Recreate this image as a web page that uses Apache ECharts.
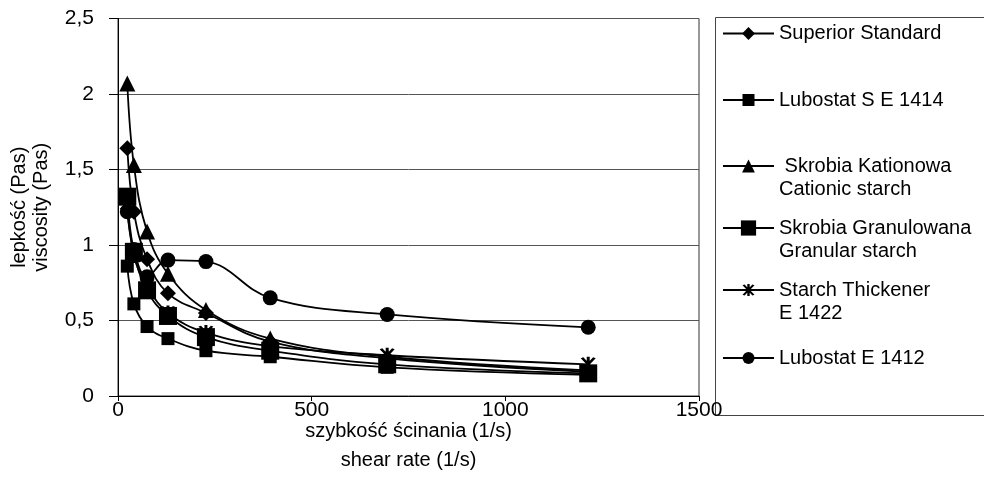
<!DOCTYPE html>
<html>
<head>
<meta charset="utf-8">
<script src="https://cdn.jsdelivr.net/npm/echarts@6/dist/echarts.min.js"></script>
<style>
  html, body { margin: 0; padding: 0; background: #fff; }
  #chart { width: 984px; height: 491px; }
</style>
</head>
<body>
<div id="chart"></div>
<script>
const FONT = '"Liberation Sans", Arial, sans-serif';

// shear rate (1/s)
const shearRate = [24, 41, 75, 129, 227, 393, 695, 1214];

// viscosity (Pas)
const superiorStandard = [1.64, 1.22, 0.905, 0.68, 0.55, 0.36, 0.25, 0.16];
const lubostatSE1414 = [0.86, 0.61, 0.46, 0.38, 0.30, 0.26, 0.19, 0.14];
const skrobiaKationowa = [2.07, 1.53, 1.09, 0.81, 0.57, 0.38, 0.26, 0.17];
const skrobiaGranulowana = [1.32, 0.955, 0.70, 0.53, 0.39, 0.30, 0.21, 0.15];
const starchThickener = [1.28, 0.93, 0.73, 0.55, 0.42, 0.33, 0.27, 0.21];
const lubostatE1412 = [1.22, 0.97, 0.79, 0.90, 0.89, 0.65, 0.54, 0.455];

const yTicks = [0, 0.5, 1, 1.5, 2, 2.5];
const xTicks = [0, 500, 1000, 1500];

// asterisk made of three bars
const ASTERISK = 'path://M-0.12,-1L0.12,-1L0.12,1L-0.12,1Z' +
  'M-0.604,-0.806L-0.396,-0.926L0.604,0.806L0.396,0.926Z' +
  'M0.396,-0.926L0.604,-0.806L-0.396,0.926L-0.604,0.806Z';

const seriesDefs = [
  { name: 'Superior Standard', values: superiorStandard, symbol: 'diamond', size: 16, legendTop: 22, legendH: 16 },
  { name: 'Lubostat S E 1414', values: lubostatSE1414, symbol: 'rect', size: 13, legendTop: 88.5, legendH: 15 },
  { name: ' Skrobia Kationowa\nCationic starch', values: skrobiaKationowa, symbol: 'triangle', size: 16, legendTop: 131.5, legendH: 16, twoLine: true },
  { name: 'Skrobia Granulowana\nGranular starch', values: skrobiaGranulowana, symbol: 'rect', size: 18, legendTop: 193.5, legendH: 19, twoLine: true },
  { name: 'Starch Thickener\nE 1422', values: starchThickener, symbol: ASTERISK, size: 15, legendTop: 255.5, legendH: 15, twoLine: true },
  { name: 'Lubostat E 1412', values: lubostatE1412, symbol: 'circle', size: 15, legendTop: 346.5, legendH: 15 }
];

const series = seriesDefs.map(d => ({
  type: 'line',
  name: d.name,
  data: shearRate.map((x, i) => [x, d.values[i]]),
  smooth: 0.4,
  symbol: d.symbol,
  symbolSize: d.size,
  showAllSymbol: true,
  lineStyle: { color: '#000', width: 1.8 },
  itemStyle: { color: '#000', borderWidth: 0 },
  emphasis: { disabled: true },
  animation: false
}));

// two-line entries get an empty first line so the icon sits on the first text line
const legends = seriesDefs.map(d => ({
  data: [d.name],
  orient: 'vertical',
  left: 722,
  top: d.legendTop,
  padding: 0,
  itemWidth: 51,
  itemHeight: d.legendH,
  selectedMode: false,
  formatter: name => (d.twoLine ? ' \n' + name : name),
  textStyle: {
    fontFamily: FONT,
    fontSize: 20,
    lineHeight: 23,
    color: '#000'
  }
}));

const chart = echarts.init(document.getElementById('chart'), null, { renderer: 'canvas' });
chart.setOption({
  backgroundColor: '#fff',
  animation: false,
  textStyle: { fontFamily: FONT, color: '#000' },
  grid: {
    left: 117, right: 285, top: 18.5, bottom: 95,
    show: true, borderColor: '#333', borderWidth: 1, backgroundColor: '#fff'
  },
  legend: legends,
  graphic: [{
    type: 'rect',
    left: 713, top: 15,
    shape: { width: 270, height: 398 },
    style: { fill: 'none', stroke: '#444', lineWidth: 1 },
    silent: true
  }],
  xAxis: {
    type: 'value',
    min: xTicks[0], max: xTicks[xTicks.length - 1], interval: 500,
    name: 'szybkość ścinania (1/s)\nshear rate (1/s)',
    nameLocation: 'middle',
    nameGap: 21,
    nameMoveOverlap: false,
    nameTextStyle: { fontFamily: FONT, fontSize: 20, lineHeight: 29, color: '#000' },
    axisLine: { lineStyle: { color: '#000', width: 1 } },
    axisTick: { show: true, length: 5, lineStyle: { color: '#000' } },
    axisLabel: {
      fontFamily: FONT, fontSize: 21, color: '#000', margin: 4,
      formatter: v => String(v)
    },
    splitLine: { show: false }
  },
  yAxis: {
    type: 'value',
    min: yTicks[0], max: yTicks[yTicks.length - 1], interval: 0.5,
    name: 'lepkość (Pas)\nviscosity (Pas)',
    nameLocation: 'middle',
    nameGap: 65,
    nameMoveOverlap: false,
    nameTextStyle: { fontFamily: FONT, fontSize: 20, lineHeight: 22.5, color: '#000' },
    axisLine: { show: true, lineStyle: { color: '#000', width: 1 } },
    axisTick: { show: true, length: 9, lineStyle: { color: '#000' } },
    axisLabel: {
      fontFamily: FONT, fontSize: 21, color: '#000', margin: 24,
      formatter: v => String(v).replace('.', ',')
    },
    splitLine: { show: true, lineStyle: { color: '#555', width: 1 } }
  },
  series: series
});
</script>
</body>
</html>
